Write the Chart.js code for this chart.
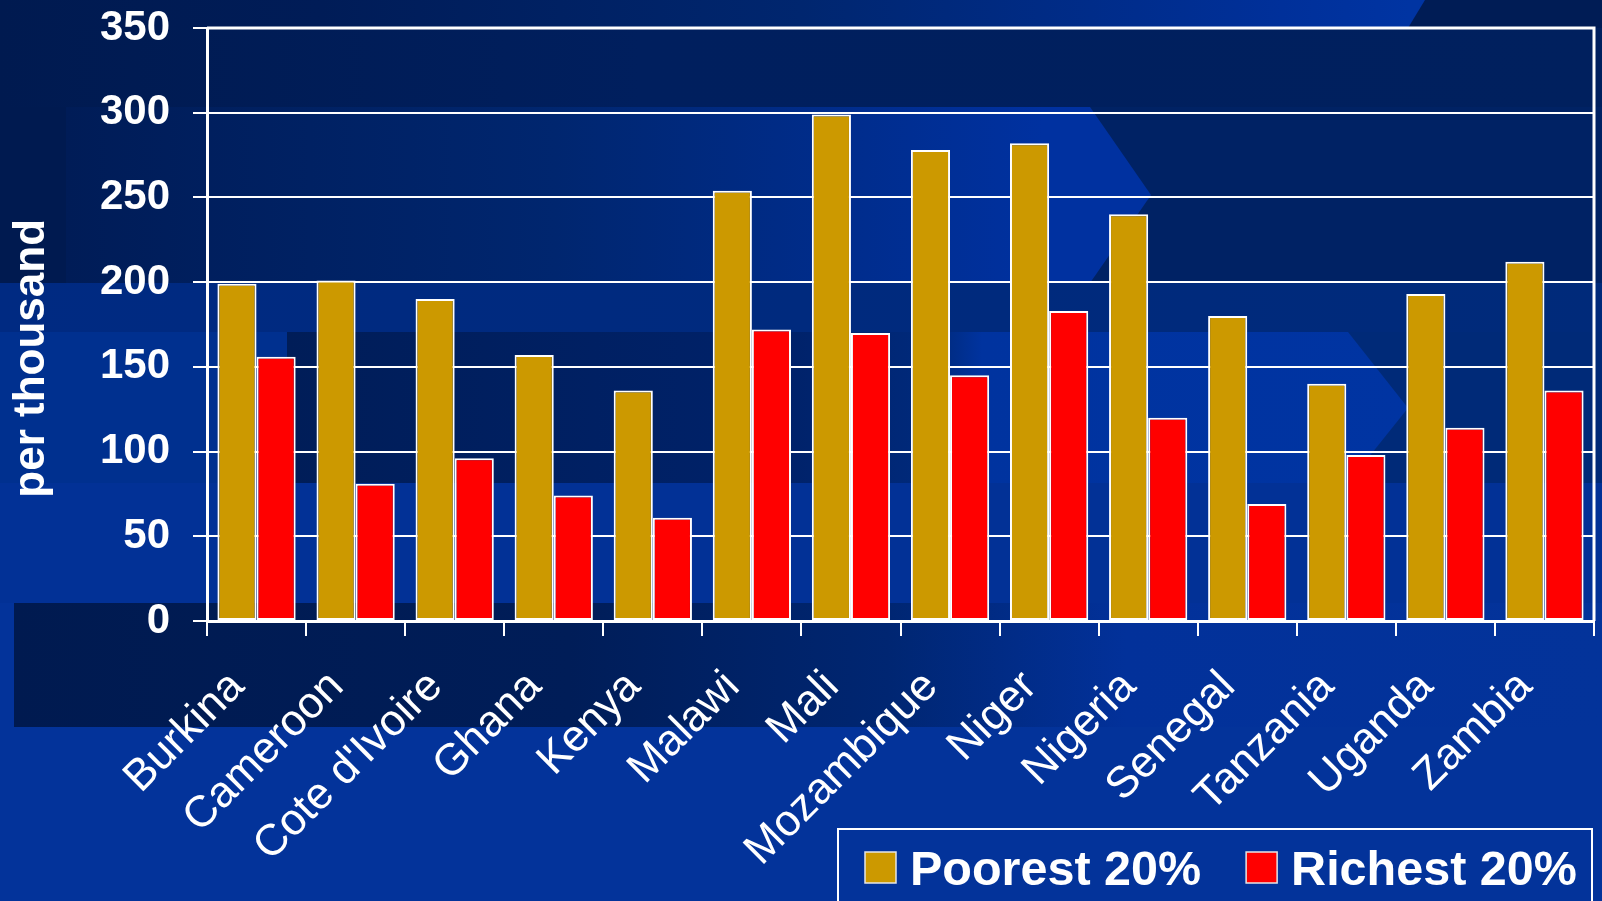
<!DOCTYPE html>
<html>
<head>
<meta charset="utf-8">
<script src="https://cdn.jsdelivr.net/npm/chart.js@4.4.1/dist/chart.umd.min.js"></script>
<style>
  html, body { margin: 0; padding: 0; background: #03339a; overflow: hidden; }
  #stage { position: relative; width: 1602px; height: 901px; overflow: hidden; background: #03339a; }
  .bg { position: absolute; }
  #chart { position: absolute; left: 0; top: 0; }
</style>
</head>
<body>
<div id="stage">
  <!-- slide template panels -->
  <div class="bg" style="left:0;top:0;width:1602px;height:28px;background:linear-gradient(90deg,#001a50 0%,#001c57 20%,#00266f 50%,#00309a 80%,#0034a2 88%);"></div>
  <div class="bg" style="left:1408px;top:0;width:194px;height:28px;background:#001c55;clip-path:polygon(17px 0,100% 0,100% 100%,0 100%);"></div>
  <div class="bg" style="left:0;top:28px;width:1602px;height:79px;background:linear-gradient(90deg,#001a50,#001f5e 40%,#00205e);"></div>
  <div class="bg" style="left:0;top:107px;width:1602px;height:176px;background:#002264;"></div>
  <div class="bg" style="left:0;top:107px;width:66px;height:176px;background:#001a50;"></div>
  <div class="bg" style="left:66px;top:107px;width:1085px;height:176px;background:linear-gradient(90deg,#001c57 0%,#00266f 45%,#0031a0 90%);clip-path:polygon(0 0,1024px 0,1085px 88px,1024px 176px,0 176px);"></div>
  <div class="bg" style="left:0;top:283px;width:1602px;height:49px;background:linear-gradient(90deg,#002a82,#002a7a);"></div>
  <div class="bg" style="left:0;top:332px;width:1602px;height:151px;background:linear-gradient(90deg,#00308f 0%,#00308f 18%,#002a78 19%);"></div>
  <div class="bg" style="left:287px;top:332px;width:1121px;height:151px;background:linear-gradient(90deg,#001d58 0%,#00226a 45%,#002a7c 58%,#00339f 62%,#0034a2 100%);clip-path:polygon(0 0,1061px 0,1121px 76px,1061px 151px,0 151px);"></div>
  <div class="bg" style="left:0;top:483px;width:1602px;height:120px;background:#023196;"></div>
  <div class="bg" style="left:14px;top:603px;width:1588px;height:124px;background:linear-gradient(90deg,#001a50 0%,#001d58 35%,#002672 55%,#02319a 70%,#03339a 100%);"></div>
  <canvas id="chart" width="1602" height="901"></canvas>
</div>
<script>
const countries = ['Burkina', 'Cameroon', "Cote d'Ivoire", 'Ghana', 'Kenya', 'Malawi', 'Mali',
  'Mozambique', 'Niger', 'Nigeria', 'Senegal', 'Tanzania', 'Uganda', 'Zambia'];
const poorest = [199, 201, 190, 157, 136, 254, 299, 278, 282, 240, 180, 140, 193, 212];
const richest = [156, 81, 96, 74, 61, 172, 170, 145, 183, 120, 69, 98, 114, 136];
const seriesNames = ['Poorest 20%', 'Richest 20%'];
const seriesColors = ['#cc9900', '#ff0000'];
const yMax = 350;
const yStep = 50;
const yTitleText = 'per thousand';

const FONT = '"Liberation Sans", Arial, Helvetica, sans-serif';

// white frame on the top and right of the plot
const plotFrame = {
  id: 'plotFrame',
  afterDraw(chart) {
    const { ctx, chartArea: a } = chart;
    ctx.save();
    ctx.strokeStyle = '#ffffff';
    ctx.lineWidth = 3;
    ctx.beginPath();
    ctx.moveTo(a.left, a.top);
    ctx.lineTo(a.right, a.top);
    ctx.lineTo(a.right, a.bottom);
    ctx.stroke();
    ctx.restore();
  }
};

// rotated axis title, sitting a little below the middle of the plot
const yTitle = {
  id: 'yTitle',
  afterDraw(chart) {
    const { ctx, chartArea: a } = chart;
    ctx.save();
    ctx.font = 'bold 44px ' + FONT;
    ctx.translate(44, a.top + (a.bottom - a.top) * 0.557);
    ctx.rotate(-Math.PI / 2);
    ctx.textAlign = 'center';
    ctx.textBaseline = 'alphabetic';
    ctx.fillStyle = '#ffffff';
    ctx.fillText(yTitleText, 0, 0);
    ctx.restore();
  }
};

// framed legend in the bottom right corner
const legendBox = {
  id: 'legendBox',
  afterDraw(chart) {
    const { ctx, chartArea: a } = chart;
    const left = 838, top = 829, right = a.right - 2;
    ctx.save();
    ctx.strokeStyle = '#ffffff';
    ctx.lineWidth = 2;
    ctx.strokeRect(left, top, right - left, 120);
    ctx.font = 'bold 48.5px ' + FONT;
    ctx.textBaseline = 'alphabetic';
    let x = left + 27;
    chart.data.datasets.forEach(ds => {
      ctx.fillStyle = ds.backgroundColor;
      ctx.fillRect(x, 852, 31, 31);
      ctx.strokeStyle = '#e6e6e6';
      ctx.lineWidth = 1.5;
      ctx.strokeRect(x, 852, 31, 31);
      ctx.fillStyle = '#ffffff';
      ctx.fillText(ds.label, x + 45, 885);
      x += 45 + ctx.measureText(ds.label).width + 45;
    });
    ctx.restore();
  }
};

new Chart(document.getElementById('chart'), {
  type: 'bar',
  data: {
    labels: countries,
    datasets: [poorest, richest].map((vals, i) => ({
      label: seriesNames[i],
      data: vals,
      backgroundColor: seriesColors[i],
      borderColor: '#ffffff',
      borderWidth: 2,
      borderSkipped: false,
      categoryPercentage: 0.79,
      barPercentage: 1.0
    }))
  },
  options: {
    responsive: false,
    animation: false,
    devicePixelRatio: 1,
    layout: { padding: { top: 28, right: 8, left: 0, bottom: 0 } },
    plugins: {
      legend: { display: false },
      tooltip: { enabled: false }
    },
    scales: {
      x: {
        grid: { display: true, drawOnChartArea: false, drawTicks: true, tickLength: 15,
                color: '#ffffff', lineWidth: 2, offset: true },
        border: { display: true, color: '#ffffff', width: 3 },
        ticks: { color: '#ffffff', font: { family: FONT, size: 44 },
                 minRotation: 45, maxRotation: 45, autoSkip: false,
                 padding: 25, labelOffset: -19 },
        afterFit(scale) {
          scale.height = 280;
          scale.paddingLeft = 0;
          scale.paddingRight = 0;
        }
      },
      y: {
        min: 0,
        max: yMax,
        grid: { color: '#ffffff', lineWidth: 2, tickLength: 14 },
        border: { display: true, color: '#ffffff', width: 3 },
        ticks: { stepSize: yStep, color: '#ffffff',
                 font: { family: FONT, size: 42, weight: 'bold' }, padding: 23 },
        afterFit(scale) {
          scale.width = 207;
          scale.paddingTop = 0;
          scale.paddingBottom = 0;
        }
      }
    }
  },
  plugins: [plotFrame, yTitle, legendBox]
});
</script>
</body>
</html>
